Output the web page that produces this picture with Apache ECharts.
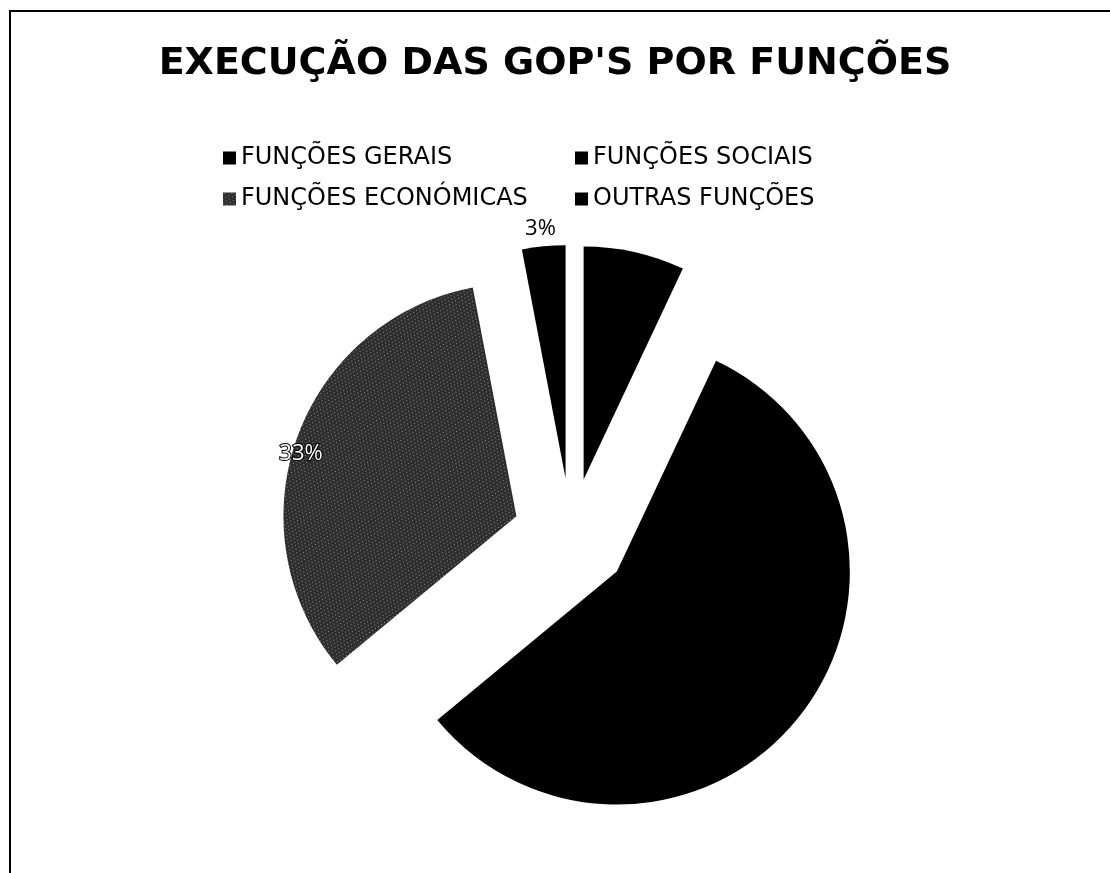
<!DOCTYPE html>
<html>
<head>
<meta charset="utf-8">
<script src="https://cdn.jsdelivr.net/npm/echarts@6/dist/echarts.min.js"></script>
<style>
html,body{margin:0;padding:0;background:#fff;}
#chart{width:1110px;height:873px;}
</style>
</head>
<body>
<div id="chart"></div>
<script>
var titleText = "EXECUÇÃO DAS GOP'S POR FUNÇÕES";
var categories = ["FUNÇÕES GERAIS", "FUNÇÕES SOCIAIS", "FUNÇÕES ECONÓMICAS", "OUTRAS FUNÇÕES"];
var values = [7, 57, 33, 3];
var colors = ["#000000", "#000000", "#2e2e2e", "#000000"];
var showLabel = [false, false, true, true];

var chart = echarts.init(document.getElementById('chart'), null, {renderer: 'canvas'});

var texture = {
  symbol: 'rect',
  symbolSize: 1,
  color: 'rgba(255,255,255,0.45)',
  dashArrayX: [[1, 3], [0, 2, 1, 1]],
  dashArrayY: [1, 2],
  rotation: 0.4
};

var data = categories.map(function (c, i) {
  var item = {
    name: c,
    value: values[i],
    selected: true,
    itemStyle: {color: colors[i]},
    label: {show: showLabel[i]}
  };
  if (i === 2) {
    item.itemStyle.decal = texture;
    item.label = {
      show: true, position: 'inside', color: '#fff', fontSize: 22,
      fontFamily: 'Open Sans', textBorderColor: '#000', textBorderWidth: 2
    };
  }
  if (i === 3) {
    item.label = {show: true, position: 'outside', color: '#000', fontSize: 22, fontFamily: 'Open Sans'};
    item.labelLine = {show: false, length: 8, length2: 0};
  }
  return item;
});

var legendText = {fontSize: 24, lineHeight: 24, fontFamily: 'DejaVu Sans', color: '#000'};

chart.setOption({
  backgroundColor: '#fff',
  animation: false,
  title: {
    text: titleText,
    left: 'center',
    top: 40,
    textStyle: {fontFamily: 'DejaVu Sans', fontWeight: 900, fontSize: 38, color: '#000'}
  },
  legend: [
    {
      data: [categories[0], categories[2]],
      orient: 'vertical',
      left: 218,
      top: 141,
      itemGap: 17,
      itemWidth: 13,
      itemHeight: 13,
      icon: 'rect',
      selectedMode: false,
      textStyle: legendText
    },
    {
      data: [categories[1], categories[3]],
      orient: 'vertical',
      left: 570,
      top: 141,
      itemGap: 17,
      itemWidth: 13,
      itemHeight: 13,
      icon: 'rect',
      selectedMode: false,
      textStyle: legendText
    }
  ],
  graphic: [
    {type: 'polyline', shape: {points: [[10, 873], [10, 11], [1110, 11]]}, style: {stroke: '#000', lineWidth: 2, fill: null}, silent: true}
  ],
  series: [{
    type: 'pie',
    center: [571, 536],
    radius: 233,
    startAngle: 90,
    clockwise: true,
    selectedMode: 'multiple',
    selectedOffset: 58,
    avoidLabelOverlap: false,
    label: {formatter: '{d}%'},
    labelLayout: function (p) {
      if (p.dataIndex === 2) { return {dx: -103, dy: -22}; }
      if (p.dataIndex === 3) { return {dx: 18, dy: -10}; }
      return {};
    },
    emphasis: {disabled: true},
    data: data
  }]
});
</script>
</body>
</html>
